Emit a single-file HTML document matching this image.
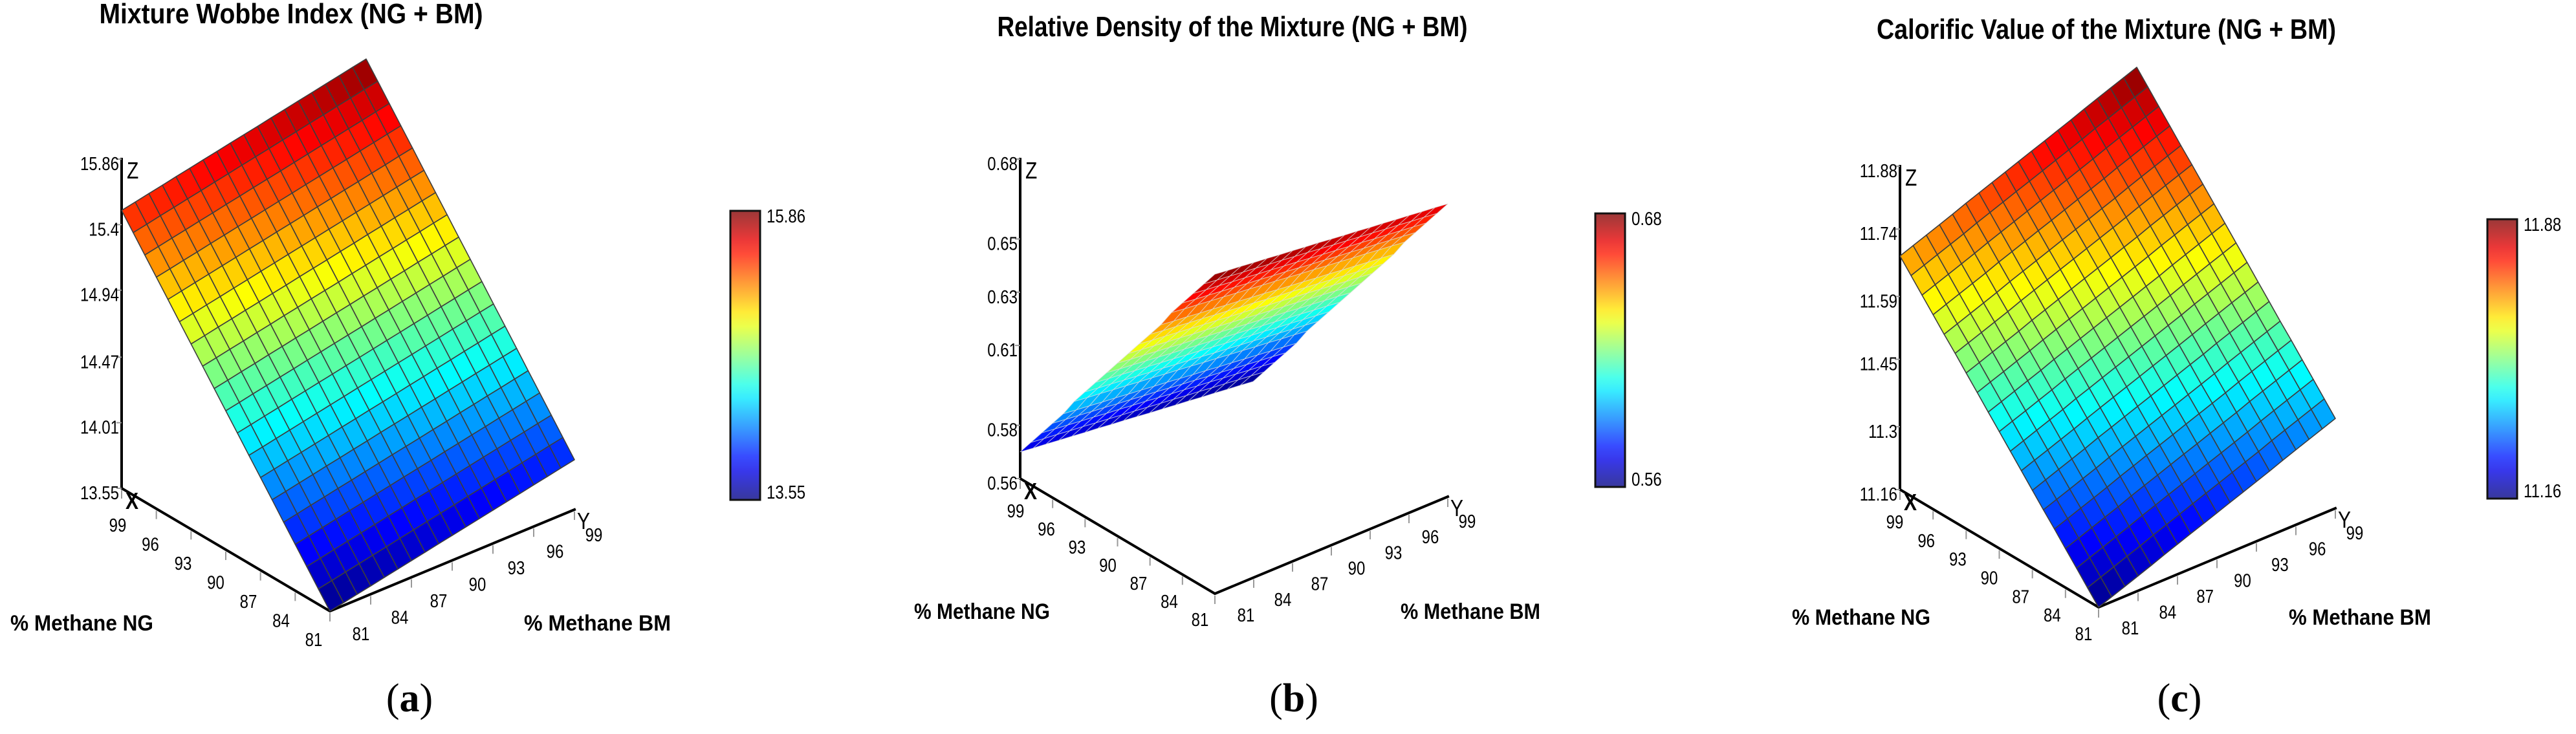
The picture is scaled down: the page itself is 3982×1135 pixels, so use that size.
<!DOCTYPE html>
<html><head><meta charset="utf-8"><style>
html,body{margin:0;padding:0;background:#fff}
svg{display:block}
text{font-family:"Liberation Sans",Arial,sans-serif}
</style></head><body>
<svg id="fig" width="3982" height="1135" viewBox="0 0 3982 1135" xmlns="http://www.w3.org/2000/svg">
<defs id="defs"></defs>
</svg>
<script>
// ---- shared axis data ----
const ngValues = [81,82,83,84,85,86,87,88,89,90,91,92,93,94,95,96,97,98,99];
const bmValues = [81,82,83,84,85,86,87,88,89,90,91,92,93,94,95,96,97,98,99];
const xTickLabels = [99,96,93,90,87,84,81];
const yTickLabels = [81,84,87,90,93,96,99];

// ---- chart (a) Wobbe index ----
const wobbeByNG = [13.550,13.658,13.767,13.875,13.983,14.092,14.200,14.308,14.417,14.525,14.633,14.742,14.850,14.958,15.067,15.175,15.283,15.392,15.500];
const wobbeByBM = [0,0.019,0.039,0.058,0.078,0.097,0.117,0.136,0.156,0.175,0.194,0.214,0.233,0.253,0.272,0.292,0.311,0.331,0.350];
const wobbeZTicks = ["15.86","15.4","14.94","14.47","14.01","13.55"];

// ---- chart (b) relative density ----
const densityByNG = [0.680,0.674,0.668,0.662,0.656,0.649,0.643,0.637,0.631,0.625,0.619,0.613,0.607,0.601,0.594,0.588,0.582,0.576,0.570];
const densityByBM = [0,-0.0006,-0.0011,-0.0017,-0.0022,-0.0028,-0.0033,-0.0039,-0.0044,-0.0050,-0.0056,-0.0061,-0.0067,-0.0072,-0.0078,-0.0083,-0.0089,-0.0094,-0.0100];
const densityZTicks = ["0.68","0.65","0.63","0.61","0.58","0.56"];

// ---- chart (c) calorific value ----
const calorByNG = [11.160,11.189,11.218,11.247,11.276,11.304,11.333,11.362,11.391,11.420,11.449,11.478,11.507,11.536,11.564,11.593,11.622,11.651,11.680];
const calorByBM = [0,0.011,0.022,0.033,0.044,0.056,0.067,0.078,0.089,0.100,0.111,0.122,0.133,0.144,0.156,0.167,0.178,0.189,0.200];
const calorZTicks = ["11.88","11.74","11.59","11.45","11.3","11.16"];

const NS = "http://www.w3.org/2000/svg";
const svg = document.getElementById('fig');
const defs = document.getElementById('defs');

function mk(tag, attrs, parent){
  const e = document.createElementNS(NS, tag);
  for (const k in attrs) e.setAttribute(k, attrs[k]);
  (parent||svg).appendChild(e);
  return e;
}
function clamp(v){return Math.max(0,Math.min(1,v));}
function jet(t){
  const r=clamp(1.5-Math.abs(4*t-3)), g=clamp(1.5-Math.abs(4*t-2)), b=clamp(1.5-Math.abs(4*t-1));
  return [r,g,b];
}
function rgb(c,mix){
  mix = mix||0;
  return 'rgb('+c.map(v=>Math.round((v*(1-mix)+mix)*255)).join(',')+')';
}
function txt(parent, x, y, s, size, opts){
  opts = opts||{};
  const t = mk('text', {x:0, y:0, 'font-size':size, fill:'#000',
    'text-anchor':opts.anchor||'start', 'font-weight':opts.bold?'bold':'normal',
    transform:'translate('+x+','+y+') scale(1,'+(opts.sy||1.2)+')'}, parent);
  if (opts.len) { t.setAttribute('textLength', opts.len); t.setAttribute('lengthAdjust','spacingAndGlyphs'); }
  if (opts.family) t.setAttribute('style','font-family:'+opts.family);
  t.textContent = s;
  return t;
}

function chart(cfg){
  const g = mk('g', {});
  
  
  const zmin = parseFloat(cfg.zTicks[cfg.zTicks.length-1]), zmax = parseFloat(cfg.zTicks[0]);
  const O = cfg.O, XE = cfg.XE, YV = [cfg.YE[0]-cfg.XE[0], cfg.YE[1]-cfg.XE[1]];
  const XV = [XE[0]-O[0], XE[1]-O[1]];
  const H = O[1]-cfg.zTop;
  function proj(ng, bm, z){
    const u = (99-ng)/18, v = (bm-81)/18, w = (z-zmin)/(zmax-zmin);
    return [O[0]+u*XV[0]+v*YV[0], O[1]+u*XV[1]+v*YV[1]-w*H];
  }
  function base(ng,bm){ return proj(ng,bm,zmin); }

  const tt = txt(g, cfg.titleX, cfg.titleY, cfg.title, 38, {anchor:'middle', bold:true, len:cfg.titleLen, sy:1.15});
  
  

  const axes = mk('g', {stroke:'#000','stroke-width':4,fill:'none','stroke-linecap':'square'}, g);
  
  
  mk('polyline', {points:[O[0],cfg.zTop, O[0],O[1], XE[0],XE[1], cfg.YE[0],cfg.YE[1]].join(' ')}, axes);

  xTickLabels.forEach((val,i)=>{
    const p = base(val,81);
    mk('line',{x1:p[0],y1:p[1]+3,x2:p[0],y2:p[1]+16,stroke:'#999','stroke-width':2},g);
    const u = (99-val)/18;
    const lx = cfg.xl99[0]+u*(cfg.xl81[0]-cfg.xl99[0]), ly = cfg.xl99[1]+u*(cfg.xl81[1]-cfg.xl99[1]);
    const t = txt(g, lx, ly, String(val), 24, {anchor:'middle'});
    
    
  });
  yTickLabels.forEach((val,i)=>{
    const p = base(81,val);
    mk('line',{x1:p[0],y1:p[1]+3,x2:p[0],y2:p[1]+16,stroke:'#999','stroke-width':2},g);
    const v = (val-81)/18;
    const lx = cfg.yl81[0]+v*(cfg.yl99[0]-cfg.yl81[0]), ly = cfg.yl81[1]+v*(cfg.yl99[1]-cfg.yl81[1]);
    const t = txt(g, lx, ly, String(val), 24, {anchor:'middle'});
    
    
  });
  cfg.zTicks.forEach((s,i)=>{
    const z = parseFloat(s);
    const y = O[1]-(z-zmin)/(zmax-zmin)*H;
    mk('line',{x1:O[0]-8,y1:y,x2:O[0],y2:y,stroke:'#999','stroke-width':2},g);
    const t = txt(g, O[0]-4, y+17, s, 24, {anchor:'end'});
    
    
  });
  const zl = txt(g, O[0]+8, cfg.zTop+30, 'Z', 30, {});
  
  
  const xl = txt(g, O[0]+6, O[1]+32, 'X', 30, {bold:true});
  
  
  const yl = txt(g, cfg.YE[0]+4, cfg.YE[1]+30, 'Y', 30, {});
  
  

  const nt = txt(g, cfg.ngTitle[0], cfg.ngTitle[1], '% Methane NG', 30, {bold:true, len:cfg.axTitleLen, sy:1.15});
  
  
  const bt = txt(g, cfg.bmTitle[0], cfg.bmTitle[1], '% Methane BM', 30, {bold:true, len:cfg.axTitleLen+6, sy:1.15});
  
  

  const surf = mk('g', {stroke:cfg.meshColor,'stroke-width':cfg.meshWidth,'stroke-linejoin':'round'}, g);
  
  
  const cells = [];
  for (let i=0;i<ngValues.length-1;i++){
    for (let j=0;j<bmValues.length-1;j++){
      const zs = [[i,j],[i+1,j],[i+1,j+1],[i,j+1]].map(([a,b])=>cfg.byNG[a]+cfg.byBM[b]);
      const pts = [[i,j],[i+1,j],[i+1,j+1],[i,j+1]].map(([a,b],k)=>proj(ngValues[a],bmValues[b],zs[k]));
      const zc = (zs[0]+zs[1]+zs[2]+zs[3])/4;
      const depth = base(ngValues[i],bmValues[j])[1];
      cells.push({pts, zc, depth});
    }
  }
  cells.sort((a,b)=>a.depth-b.depth);
  cells.forEach(c=>{
    const t = (c.zc-zmin)/(zmax-zmin);
    const p = mk('polygon', {points:c.pts.map(q=>q[0].toFixed(1)+','+q[1].toFixed(1)).join(' '), fill:rgb(jet(t))}, surf);
    
    
  });

  const gid = 'grad-'+cfg.name;
  const lg = mk('linearGradient', {id:gid, x1:0, y1:1, x2:0, y2:0}, defs);
  for (let k=0;k<=20;k++){
    mk('stop', {offset:(k/20), 'stop-color':rgb(jet(k/20),0.22)}, lg);
  }
  const cb = mk('rect', {x:cfg.cb[0], y:cfg.cb[1], width:46, height:cfg.cb[2]-cfg.cb[1], fill:'url(#'+gid+')', stroke:'#111','stroke-width':3}, g);
  
  
  const ct = txt(g, cfg.cb[0]+56, cfg.cb[1]+18, cfg.zTicks[0], 24, {});
  
  
  const cbm = txt(g, cfg.cb[0]+56, cfg.cb[2]-2, cfg.zTicks[cfg.zTicks.length-1], 24, {});
  
  

  const pl = txt(g, cfg.panel[0], cfg.panel[1], '', 62, {anchor:'middle', sy:1.0, family:'"Liberation Serif",serif'});
  pl.innerHTML = '(<tspan font-weight="bold">'+cfg.letter+'</tspan>)';
  
  
}

chart({name:'wobbe-chart', title:'Mixture Wobbe Index (NG + BM)', titleX:450, titleY:36, titleLen:593,
  O:[188,755], XE:[510,945], YE:[888,788], zTop:246, zTicks:wobbeZTicks, byNG:wobbeByNG, byBM:wobbeByBM,
  xl99:[182,822], xl81:[485,999], yl81:[558,990], yl99:[918,837],
  ngTitle:[16,975], bmTitle:[810,975], axTitleLen:221, meshColor:'#3d3d3d', meshWidth:1.6,
  cb:[1129,326,773], panel:[633,1100], letter:'a'});

chart({name:'density-chart', title:'Relative Density of the Mixture (NG + BM)', titleX:1905, titleY:56, titleLen:727,
  O:[1577,740], XE:[1878,918], YE:[2238,768], zTop:246, zTicks:densityZTicks, byNG:densityByNG, byBM:densityByBM,
  xl99:[1570,800], xl81:[1855,968], yl81:[1926,961], yl99:[2268,816],
  ngTitle:[1413,957], bmTitle:[2165,957], axTitleLen:210, meshColor:'rgba(220,220,220,0.7)', meshWidth:1,
  cb:[2466,330,753], panel:[2000,1100], letter:'b'});

chart({name:'calorific-chart', title:'Calorific Value of the Mixture (NG + BM)', titleX:3256, titleY:60, titleLen:710,
  O:[2937,757], XE:[3244,939], YE:[3610,786], zTop:257, zTicks:calorZTicks, byNG:calorByNG, byBM:calorByBM,
  xl99:[2929,817], xl81:[3221,990], yl81:[3293,981], yl99:[3640,834],
  ngTitle:[2770,966], bmTitle:[3538,966], axTitleLen:214, meshColor:'#3d3d3d', meshWidth:1.6,
  cb:[3845,339,771], panel:[3369,1100], letter:'c'});
</script>
</body></html>
